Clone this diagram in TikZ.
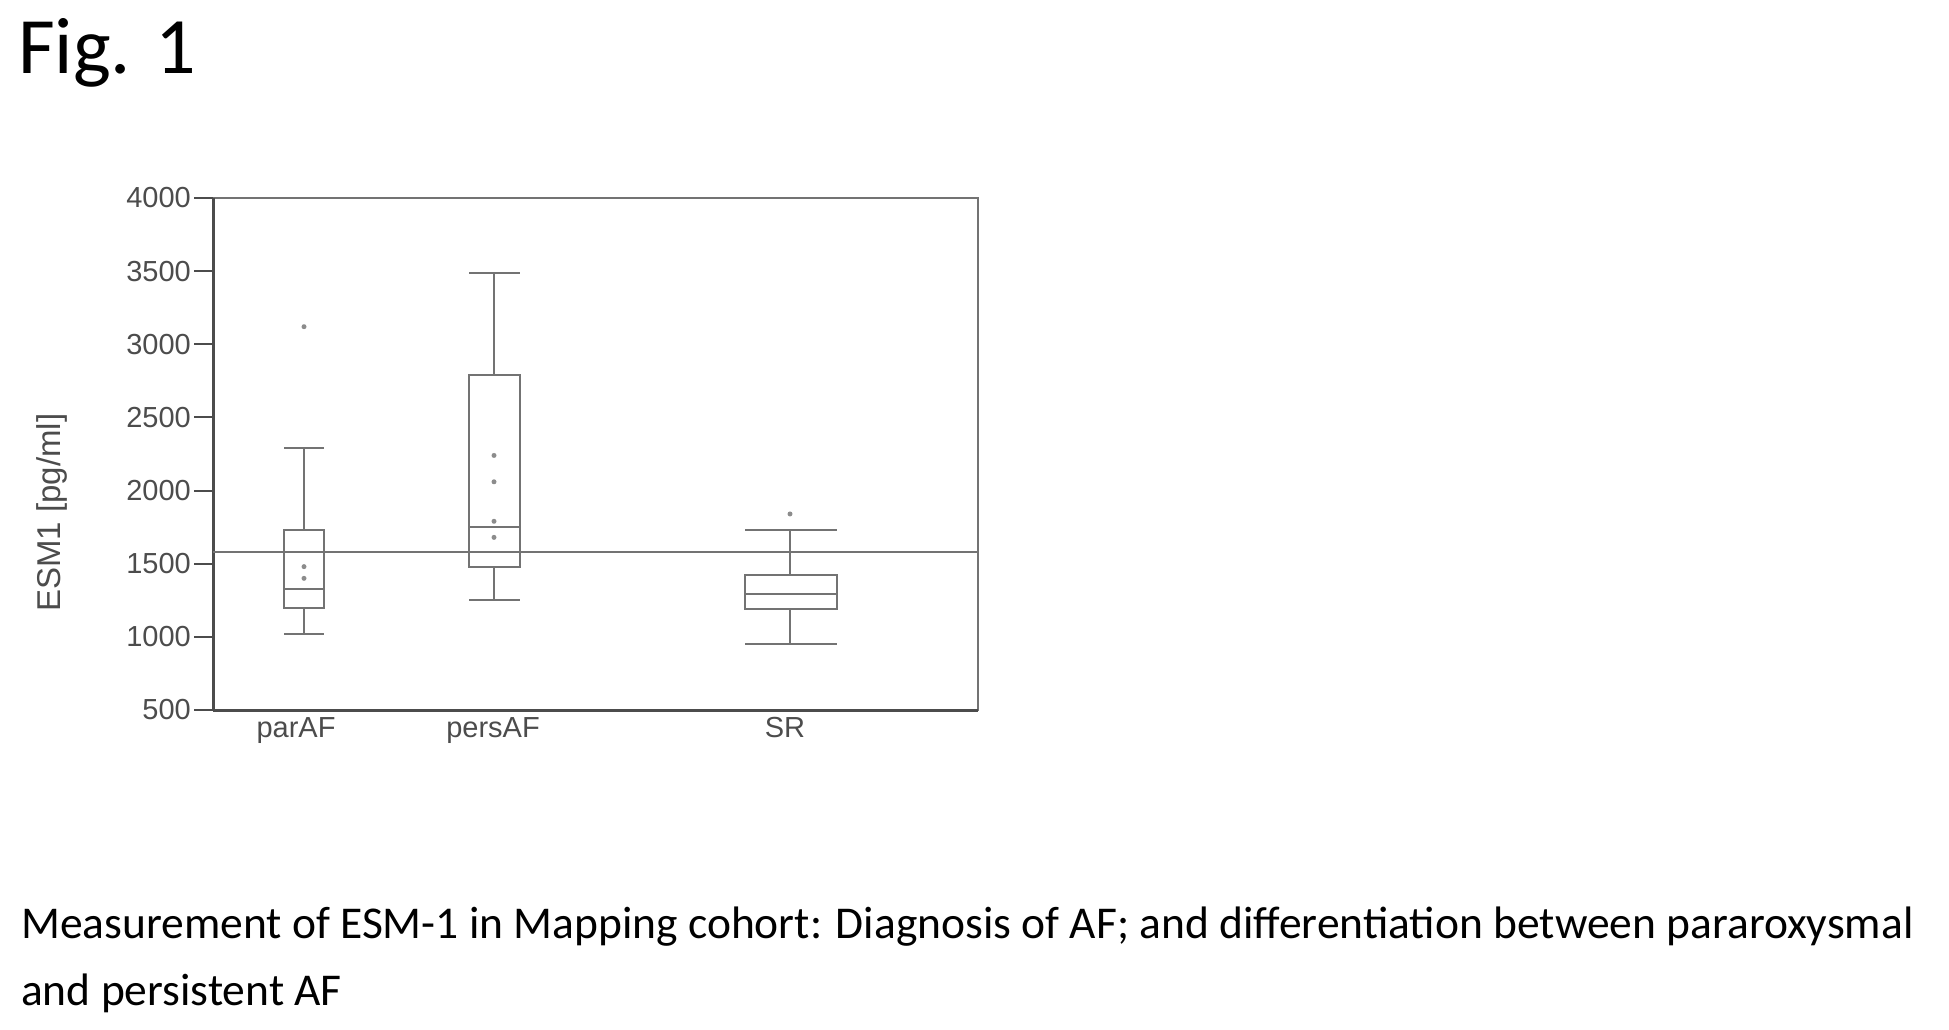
\documentclass[tikz,border=0pt]{standalone}
\usepackage{fontspec}
\setmainfont{Carlito}
\newfontfamily\plotfont{Liberation Sans}
\begin{document}
\begin{tikzpicture}[x=1pt,y=-1pt]
\tikzset{plotline/.style={draw=black!55,line width=2pt},
  axisline/.style={draw=black!70,line width=3pt},
  ticklabel/.style={font=\plotfont\fontsize{29}{29}\selectfont,text=black!70,inner sep=0pt},
  dot/.style={fill=black!45}}
\useasboundingbox (0,0) rectangle (1949,1029);
\node[anchor=north west,inner sep=0pt,font=\fontsize{80}{80}\selectfont] (fig) at (18,18) {Fig. 1};
% plot in data units
\begin{scope}[yshift=-710pt,y=0.1463pt]
\draw[plotline] (213,0) rectangle (978,3500);
\draw[axisline] (213,0) -- (213,3500);
\draw[axisline] (213,0) -- (978,0);
\foreach \v in {500,1000,...,4000} {
  \draw[axisline,line width=2pt] (194,\v-500) -- (213,\v-500);
  \node[ticklabel,anchor=east] (t\v) at (191,\v-500) {\v};
}
\foreach \xx in {390,597} \draw[axisline,line width=2pt] (\xx,0) -- (\xx,-12);
\node[ticklabel,anchor=north] (lpar) at (296,-50) {parAF};
\node[ticklabel,anchor=north] (lpers) at (493,-50) {persAF};
\node[ticklabel,anchor=north] (lsr) at (785,-50) {SR};
\node[ticklabel,font=\plotfont\fontsize{33}{33}\selectfont,rotate=90] (ytitle) at (52,1350) {ESM1 [pg/ml]};
% reference line
\draw[plotline] (213,1080) -- (978,1080);
% boxes
\foreach \lo/\hi/\cx/\wl/\ql/\med/\qh/\wh in {284/324/304/1020/1200/1330/1730/2290,
    469/520/494/1250/1480/1750/2790/3490,
    745/837/790/950/1190/1290/1420/1730} {
  \draw[plotline] (\lo,\ql-500) rectangle (\hi,\qh-500);
  \draw[plotline] (\lo,\med-500) -- (\hi,\med-500);
  \draw[plotline] (\cx,\wl-500) -- (\cx,\ql-500);
  \draw[plotline] (\cx,\qh-500) -- (\cx,\wh-500);
  \draw[plotline] (\lo,\wl-500) -- (\hi,\wl-500);
  \draw[plotline] (\lo,\wh-500) -- (\hi,\wh-500);
}
\foreach \px/\pv in {304/3120,304/1480,304/1400,494/2240,494/2060,494/1790,494/1680,790/1840}
  \fill[dot] (\px,\pv-500) circle (2.5pt);
\end{scope}
\node[anchor=west,inner sep=0pt,font=\fontsize{45.5}{45.5}\selectfont] (cap1) at (21,927) {Measurement of ESM-1 in Mapping cohort: Diagnosis of AF; and differentiation between pararoxysmal};
\node[anchor=west,inner sep=0pt,font=\fontsize{45.5}{45.5}\selectfont] (cap2) at (21,993) {and persistent AF};
\end{tikzpicture}
\end{document}
